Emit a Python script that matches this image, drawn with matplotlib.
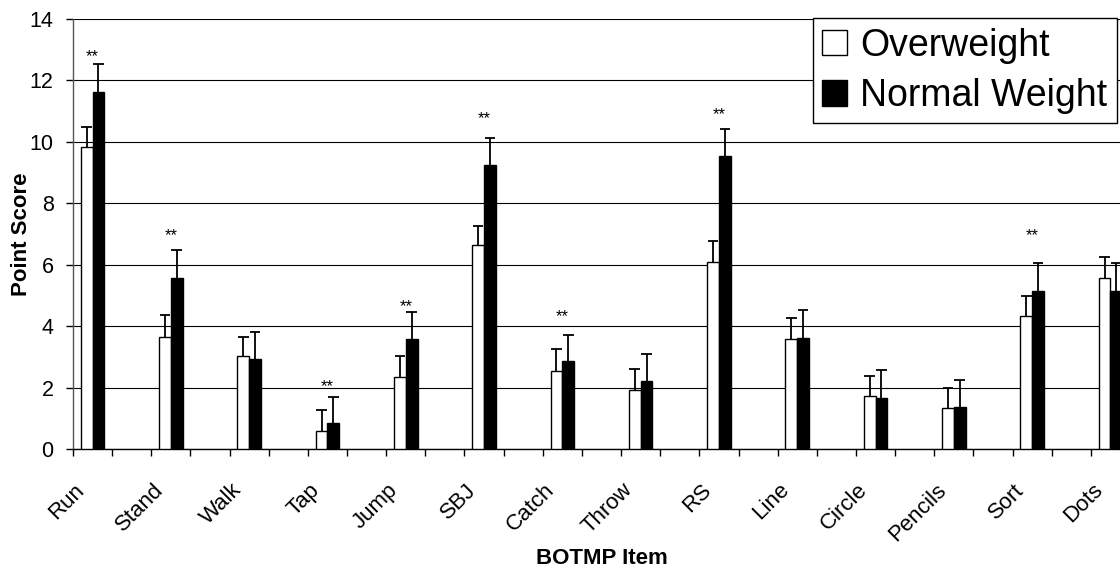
import numpy as np
import matplotlib
matplotlib.use("Agg")
import matplotlib.pyplot as plt
from matplotlib.patches import Patch
from matplotlib.transforms import ScaledTranslation

plt.rcParams['font.family'] = ['Liberation Sans', 'DejaVu Sans']

categories = ["Run", "Stand", "Walk", "Tap", "Jump", "SBJ", "Catch", "Throw",
              "RS", "Line", "Circle", "Pencils", "Sort", "Dots"]
overweight = [9.84, 3.66, 3.03, 0.61, 2.34, 6.65, 2.56, 1.92, 6.08, 3.58, 1.75, 1.33, 4.35, 5.58]
overweight_err = [0.64, 0.70, 0.62, 0.67, 0.69, 0.63, 0.69, 0.68, 0.69, 0.68, 0.63, 0.67, 0.65, 0.69]
normal = [11.63, 5.58, 2.94, 0.87, 3.59, 9.25, 2.86, 2.22, 9.54, 3.62, 1.67, 1.38, 5.16, 5.16]
normal_err = [0.90, 0.91, 0.89, 0.84, 0.89, 0.89, 0.85, 0.89, 0.89, 0.90, 0.90, 0.89, 0.89, 0.89]
sig_items = ["Run", "Stand", "Tap", "Jump", "SBJ", "Catch", "RS", "Sort"]
sig_y = [12.9, 7.08, 2.15, 4.75, 10.88, 4.43, 10.99, 7.08]
yticks = [0, 2, 4, 6, 8, 10, 12, 14]

W, H = 1120, 568
fig = plt.figure(figsize=(W / 100, H / 100), dpi=100)
ax = fig.add_axes([73 / W, (H - 449.3) / H, 1057 / W, 430.3 / H])

n = len(categories)
centers = np.arange(n) * 2 + 0.5
bw = 0.3

ax.bar(centers - bw / 2, overweight, bw, color='white', edgecolor='black', linewidth=1, zorder=3)
ax.bar(centers + bw / 2, normal, bw, color='black', edgecolor='black', linewidth=1, zorder=3)

for xs, vals, errs in [(centers - bw / 2, overweight, overweight_err),
                       (centers + bw / 2, normal, normal_err)]:
    vals = np.asarray(vals)
    tops = vals + np.asarray(errs)
    ax.vlines(xs, vals, tops, colors='black', linewidth=1.3, zorder=4)
    ax.hlines(tops, xs - bw * 0.45, xs + bw * 0.45, colors='black', linewidth=1.3, zorder=4)

for item, yv in zip(sig_items, sig_y):
    xi = centers[categories.index(item)]
    ax.annotate("**", (xi, yv), xytext=(0, -8), textcoords='offset pixels',
                ha='center', va='baseline', fontsize=12, zorder=5)

ax.set_xlim(0, 27)
ax.set_ylim(0, 14)
ax.set_yticks(yticks)
ax.set_yticklabels([str(v) for v in yticks])
ax.yaxis.grid(True, color='black', linewidth=0.8)
ax.set_axisbelow(True)

ax.set_xticks(centers)
ax.set_xticklabels(categories, rotation=45, ha='right', va='center', rotation_mode='anchor')
ax.set_xticks(np.arange(0, 28), minor=True)
ax.tick_params(axis='x', which='major', length=0, pad=27, labelsize=16)
ax.tick_params(axis='x', which='minor', length=5, width=1, direction='out')
ax.tick_params(axis='y', length=5, width=1, direction='out', pad=9.0, labelsize=15.5)
for lab in ax.get_xticklabels():
    lab.set_transform(lab.get_transform() + ScaledTranslation(-11 / 100, 0, fig.dpi_scale_trans))

for s in ['top', 'right']:
    ax.spines[s].set_visible(False)
ax.spines['left'].set_linewidth(1)
ax.spines['left'].set_color('#555555')
ax.spines['bottom'].set_linewidth(1)

ax.set_ylabel("Point Score", fontsize=16, fontweight='bold', va='center')
ax.yaxis.set_label_coords(-0.0485, 0.5)
ax.set_xlabel("BOTMP Item", fontsize=16, fontweight='bold', va='center')
ax.xaxis.set_label_coords(0.5, -0.2527)

handles = [Patch(facecolor='white', edgecolor='black', linewidth=1),
           Patch(facecolor='black', edgecolor='black', linewidth=1)]
leg = fig.legend(handles, ['Overweight', 'Normal Weight'], loc='upper right',
                 bbox_to_anchor=(1117 / W, 1 - 18.3 / H), bbox_transform=fig.transFigure,
                 borderaxespad=0, fontsize=27, handlelength=0.67, handleheight=0.67,
                 handletextpad=0.35, borderpad=0.25, labelspacing=0.38, fancybox=False,
                 framealpha=1, edgecolor='black')
leg.get_frame().set_linewidth(1)

fig.savefig("out.png", dpi=100)
